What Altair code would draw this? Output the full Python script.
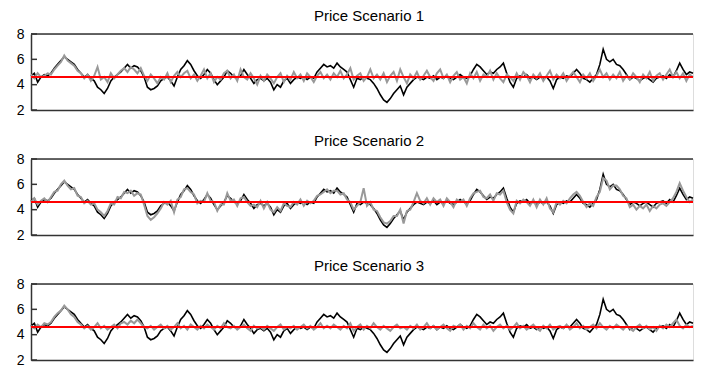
import altair as alt
import pandas as pd

titles = ["Price Scenario 1", "Price Scenario 2", "Price Scenario 3"]
mean_level = [4.6]
y_ticks = [2, 4, 6, 8]

# observed price series (black), same in all three panels
black = [
    4.7, 4.9, 4.2, 4.6, 4.8, 4.7, 4.9, 5.3, 5.6, 5.9,
    6.2, 6.0, 5.8, 5.6, 5.2, 4.9, 4.6, 4.8, 4.5, 4.3,
    3.8, 3.6, 3.3, 3.7, 4.3, 4.6, 4.8, 5.0, 5.3, 5.6,
    5.3, 5.5, 5.4, 5.1, 4.6, 3.8, 3.6, 3.7, 3.9, 4.3,
    4.5, 4.6, 4.3, 3.9, 4.6, 5.2, 5.5, 5.9, 5.6, 5.1,
    4.7, 4.5, 4.8, 5.2, 4.9, 4.4, 4.0, 4.3, 4.6, 5.1,
    4.9, 4.6, 4.5, 4.7, 5.2, 4.8, 4.5, 4.1, 4.4, 4.5,
    4.3, 4.5, 4.2, 3.6, 4.0, 3.8, 4.3, 4.5, 4.1, 4.4,
    4.6, 4.5, 4.6, 4.4, 4.6, 4.5, 5.0, 5.3, 5.6, 5.4,
    5.5, 5.3, 5.7, 5.4, 5.2, 5.0, 4.4, 3.8, 4.5, 4.4,
    4.6, 4.5, 4.4, 4.1, 3.7, 3.2, 2.8, 2.6, 2.9, 3.3,
    3.6, 3.9, 3.2, 3.8, 4.1, 4.4, 4.6, 4.5, 4.4, 4.6,
    4.5, 4.7, 4.4, 4.6, 4.5, 4.7, 4.5, 4.4, 4.6, 4.8,
    4.6, 4.5, 4.7, 5.2, 5.6, 5.4, 5.1, 4.8, 5.0, 4.9,
    5.2, 5.4, 5.7, 4.9, 4.2, 3.8, 4.5, 4.7, 4.6, 4.8,
    4.5, 4.6, 4.4, 4.6, 4.5, 4.6, 4.3, 3.7, 4.4, 4.6,
    4.5, 4.7, 4.6, 4.9, 5.2, 4.9, 4.5, 4.4, 4.2, 4.5,
    4.8, 5.6, 6.8, 6.0, 5.8, 6.0, 5.6, 5.5, 5.2, 4.8,
    4.4, 4.6, 4.5, 4.3, 4.5, 4.6, 4.4, 4.2, 4.5, 4.6,
    4.7, 4.5, 4.8, 4.6, 5.1, 5.7, 5.2, 4.8, 5.0, 4.9,
]

gray1 = [
    4.8, 4.5, 4.9, 4.6, 4.7, 4.9, 4.8, 5.2, 5.5, 5.8,
    6.3, 5.9, 5.7, 5.5, 5.1, 4.9, 4.5, 4.8, 4.3, 4.7,
    5.4, 4.4, 4.6, 4.2, 4.9, 4.5, 4.8, 5.1, 5.3, 5.0,
    5.4, 5.2, 4.9, 5.3, 4.7, 4.3, 4.8, 4.5, 4.1, 4.6,
    4.4, 4.9, 4.2, 4.7, 5.0, 4.6, 4.9, 5.1, 4.5, 4.8,
    4.3, 4.7, 5.2, 4.5, 4.9, 4.2, 4.6, 4.4, 4.9, 5.1,
    4.5, 4.8, 4.3, 5.2, 4.6, 4.4, 4.9, 4.5, 4.0, 4.7,
    4.3, 4.8, 4.5, 4.1, 4.6, 4.9, 4.2, 4.7, 4.4, 5.0,
    4.5, 4.8, 4.3, 4.9, 4.6, 4.2, 4.7, 5.0, 4.5, 4.8,
    4.4, 4.9, 4.6, 5.1, 4.5, 4.8, 5.3, 4.4, 4.7, 4.9,
    4.3, 4.6, 5.2, 4.5, 4.8, 4.4, 4.9, 4.2, 4.7, 5.0,
    4.3, 5.2, 4.6, 4.1, 4.8, 4.5, 5.0, 4.4, 4.7, 5.1,
    4.6, 4.3, 4.9, 5.2, 4.5, 4.8, 4.2, 4.7, 5.0, 4.4,
    4.6, 4.1, 4.9, 4.5, 5.0, 4.3, 4.8, 4.6, 5.1, 4.4,
    4.9, 4.5, 4.2, 4.8, 4.6, 4.3, 4.9, 4.4, 5.0, 4.7,
    4.2, 4.8, 4.5, 4.9, 4.3, 4.7, 5.1, 4.4, 4.8, 4.5,
    4.9, 4.3, 4.7, 5.0, 4.6, 4.2, 4.8, 4.5, 4.9, 4.3,
    4.7, 5.2, 4.6, 4.9, 4.4, 4.8, 4.5, 5.0, 4.3, 4.7,
    4.4, 4.9, 4.6, 4.2, 4.8, 4.5, 5.0, 4.3, 4.7, 4.9,
    4.4, 4.8, 5.2, 4.6, 5.0, 4.5, 4.9, 4.3, 4.8, 4.6,
]

gray2 = [
    4.6, 4.9, 4.4, 4.7, 4.9, 4.6, 5.0, 5.4, 5.5, 6.0,
    6.3, 5.9, 5.6, 5.7, 5.1, 5.0, 4.5, 4.7, 4.4, 4.5,
    4.0, 3.8, 3.5, 3.9, 4.5, 4.4, 5.0, 4.9, 5.4, 5.3,
    5.5, 5.1, 5.3, 5.2, 4.4, 3.5, 3.2, 3.4, 3.7, 4.1,
    4.6, 4.4, 4.7, 3.8, 4.8, 5.0, 5.6, 5.7, 5.4, 5.2,
    4.5, 4.7, 4.6, 5.3, 4.7, 4.6, 3.9, 4.4, 4.4, 5.3,
    4.7, 4.8, 4.3, 4.9, 5.0, 4.6, 4.3, 4.4, 4.2, 4.7,
    4.1, 4.6, 4.0, 3.8, 4.2, 3.9, 4.5, 4.3, 4.2, 4.6,
    4.4, 4.8, 4.3, 4.7, 4.5, 4.7, 5.1, 5.2, 5.4, 5.6,
    5.3, 5.5, 5.5, 5.2, 5.3, 4.8, 4.6, 4.0, 4.3, 4.6,
    5.7, 4.3, 4.6, 4.0, 3.9, 3.4, 3.0, 2.9, 3.1, 3.5,
    3.5, 4.0, 2.9, 3.9, 4.0, 4.6, 5.3, 4.7, 4.5, 4.9,
    4.4, 4.9, 4.6, 4.8, 4.3, 4.9, 4.6, 4.2, 4.8, 4.6,
    4.8, 4.3, 4.9, 5.3, 5.4, 5.5, 5.0, 4.9, 5.2, 4.7,
    5.3, 5.2, 5.5, 4.6, 4.0, 3.7, 4.7, 4.5, 4.8, 4.6,
    4.3, 4.8, 4.2, 4.8, 4.4, 4.9, 4.1, 3.8, 4.6, 4.4,
    4.7, 4.5, 4.9, 5.2, 5.4, 5.1, 4.6, 4.2, 4.5, 4.3,
    5.0, 5.4, 6.5, 6.3, 5.6, 5.9, 5.9, 5.6, 5.1, 4.9,
    4.2, 4.4, 4.0, 4.3, 4.1, 4.4, 3.9, 4.3, 4.1, 4.4,
    4.5, 4.3, 4.6, 4.9, 5.4, 6.1, 5.5, 5.0, 4.6, 4.8,
]

gray3 = [
    4.7, 4.5, 4.8, 4.6, 4.9, 4.8, 5.0, 5.4, 5.7, 5.9,
    6.3, 6.0, 5.6, 5.4, 5.0, 4.8, 4.5, 4.7, 4.4, 4.6,
    4.9, 4.5, 4.7, 4.4, 4.6, 4.8, 4.5, 4.9, 5.0, 4.8,
    5.1, 4.9, 5.2, 4.9, 4.6, 4.5, 4.7, 4.4, 4.6, 4.8,
    4.5, 4.7, 4.4, 4.6, 4.9, 4.5, 4.7, 4.4, 4.8, 4.6,
    4.4, 4.7, 4.5, 4.8, 4.6, 4.4, 4.7, 4.5, 4.9, 4.6,
    4.5, 4.7, 4.4, 4.6, 4.8, 4.5, 4.3, 4.7, 4.5, 4.6,
    4.4, 4.7, 4.5, 4.3, 4.6, 4.8, 4.4, 4.6, 4.5, 4.7,
    4.4, 4.6, 4.8, 4.5, 4.7, 4.4, 4.6, 4.9, 4.5, 4.7,
    4.5, 4.8, 4.6, 4.4, 4.7, 4.5, 4.9, 4.3, 4.6, 4.8,
    4.4, 4.7, 4.5, 4.9, 4.6, 4.4, 4.7, 4.5, 4.3, 4.6,
    4.8, 4.5, 4.6, 4.4, 4.7, 4.5, 4.8, 4.4, 4.6, 4.9,
    4.5, 4.7, 4.4, 4.6, 4.8, 4.5, 4.3, 4.7, 4.6, 4.8,
    4.4, 4.7, 4.5, 4.9, 4.6, 4.4, 4.8, 4.5, 4.7, 4.3,
    4.6, 4.8, 4.5, 4.7, 4.4, 4.6, 4.9, 4.5, 4.7, 4.4,
    4.6, 4.8, 4.5, 4.3, 4.7, 4.5, 4.8, 4.4, 4.6, 4.7,
    4.5, 4.8, 4.4, 4.6, 4.9, 4.5, 4.7, 4.4, 4.6, 4.8,
    4.5, 4.9, 4.6, 4.4, 4.7, 4.5, 4.8, 4.6, 4.4, 4.7,
    4.5, 4.3, 4.6, 4.8, 4.5, 4.7, 4.4, 4.6, 4.3, 4.7,
    4.5, 4.8, 4.6, 4.9, 5.2, 4.7, 4.5, 4.8, 4.6, 4.7,
]

W, H = 662, 76
FONT = "Liberation Sans"
FRAME = "#333333"


def panel(title, gray):
    df = pd.DataFrame({"t": list(range(len(black))), "black": black, "gray": gray})
    lvl = pd.DataFrame({"level": mean_level})
    tks = pd.DataFrame({"v": y_ticks})
    xs = alt.Scale(domain=[0, len(black) - 1], nice=False, zero=False)
    xa = alt.Axis(labels=False, ticks=False, grid=False, title=None,
                  domainColor=FRAME, domainWidth=1.5)
    ys = alt.Scale(domain=[2, 8], nice=False, zero=False)
    ya = alt.Axis(values=y_ticks, grid=False, ticks=False, title=None,
                  labelPadding=7, labelFontSize=14, labelFont=FONT,
                  labelColor="#000000", domainColor=FRAME, domainWidth=1.5)
    base = alt.Chart(df)
    bl = base.mark_line(color="#000000", strokeWidth=1.6).encode(
        x=alt.X("t:Q", scale=xs, axis=xa),
        y=alt.Y("black:Q", scale=ys, axis=ya))
    gr = base.mark_line(color="#999999", strokeWidth=2).encode(
        x=alt.X("t:Q", scale=xs, axis=xa),
        y=alt.Y("gray:Q", scale=ys, axis=ya))
    red = alt.Chart(lvl).mark_rule(color="#ff0000", strokeWidth=2).encode(
        y=alt.Y("level:Q", scale=ys, axis=ya))
    ticks = alt.Chart(tks).mark_rule(color=FRAME, strokeWidth=1.5).encode(
        y=alt.Y("v:Q", scale=ys, axis=ya), x=alt.value(0), x2=alt.value(6))
    top = alt.Chart(lvl).mark_rule(color=FRAME, strokeWidth=1.5).encode(
        x=alt.value(0), x2=alt.value(W), y=alt.value(0))
    return alt.layer(bl, gr, red, ticks, top).properties(
        width=W, height=H,
        title=alt.TitleParams(title, fontSize=15, font=FONT, fontWeight="normal",
                              color="#000000", offset=3, dx=7))


chart = alt.vconcat(
    panel(titles[0], gray1),
    panel(titles[1], gray2),
    panel(titles[2], gray3),
    spacing=49,
    bounds="flush",
).properties(
    padding={"left": 7, "top": 0, "right": 0, "bottom": 0}
).configure_view(stroke=None).configure(background="white")

chart.save("out.html", embed_options={"renderer": "svg", "actions": False})
